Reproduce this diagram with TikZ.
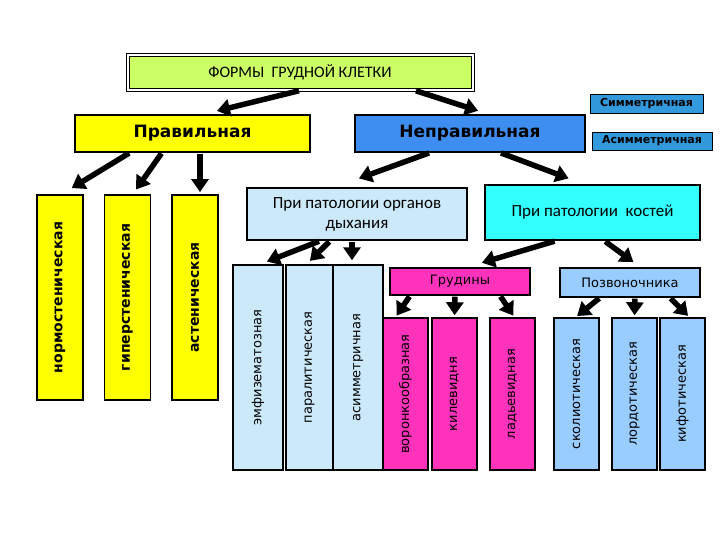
\documentclass[tikz,border=0pt]{standalone}
\usepackage{fontspec}
\setmainfont{DejaVu Sans}
\newfontfamily\calib{Carlito}
\usetikzlibrary{arrows.meta}
\definecolor{lime}{HTML}{CCFF66}
\definecolor{yel}{HTML}{FFFF00}
\definecolor{blu}{HTML}{3D8EF0}
\definecolor{sblu}{HTML}{3399DD}
\definecolor{lblu}{HTML}{CCE9F9}
\definecolor{cyn}{HTML}{33FFFF}
\definecolor{mag}{HTML}{FF33BB}
\definecolor{pblu}{HTML}{99CCFF}
\tikzset{
 box/.style={draw=black,line width=1.8pt,inner sep=1pt,align=center},
 vtxt/.style={rotate=90,inner sep=0pt,font=\fontsize{13}{14}\selectfont},
 arr/.style={line width=5.5pt,-{Triangle[length=13pt,width=17pt]},shorten >=2pt,shorten <=1pt},
}
\begin{document}
\begin{tikzpicture}[x=1pt,y=-1pt]
\useasboundingbox[fill=white] (0,0) rectangle (720,540);
\node[draw=black,line width=1pt,double=white,double distance=2pt,fill=lime,minimum width=345pt,minimum height=35pt,font=\calib\fontsize{16}{18}\selectfont] (title) at (300,72.5) {ФОРМЫ\ \ ГРУДНОЙ КЛЕТКИ};
\node[box,line width=1.2pt,fill=yel,minimum width=235pt,minimum height=37pt,font=\bfseries\fontsize{17}{19}\selectfont] (prav) at (192.5,133.5) {Правильная};
\node[box,line width=1.2pt,fill=blu,minimum width=230pt,minimum height=37pt,font=\bfseries\fontsize{17}{19}\selectfont] (neprav) at (470,133.5) {Неправильная};
\node[box,line width=0.8pt,fill=sblu,minimum width=113pt,minimum height=19pt,font=\bfseries\fontsize{11}{12}\selectfont] (sym) at (646.5,103.5) {Симметричная};
\node[box,line width=0.8pt,fill=sblu,minimum width=120pt,minimum height=18pt,font=\bfseries\fontsize{11}{12}\selectfont] (asym) at (652,141) {Асимметричная};
% yellow verticals
\foreach \n/\x/\t in {normo/60/нормостеническая,giper/127.5/гиперстеническая,asten/195/астеническая}{
 \node[box,fill=yel,minimum width=46pt,minimum height=205pt] (\n) at (\x,297.5) {};
 \node[vtxt,font=\bfseries\fontsize{14}{15}\selectfont] (\n-t) at (\n) {\t};
}
\node[box,fill=lblu,minimum width=220pt,minimum height=52pt,font=\calib\fontsize{17}{20}\selectfont] (resp) at (357,214) {При патологии органов\\дыхания};
\node[box,fill=cyn,minimum width=215pt,minimum height=55pt,font=\calib\fontsize{17}{20}\selectfont] (bones) at (592.5,212.5) {При патологии\ \ костей};
\foreach \n/\x/\w/\t in {emph/258/50/эмфизематозная,paral/309.5/47/паралитическая,asymm/358/50/асимметричная}{
 \node[box,line width=1.4pt,fill=lblu,minimum width=\w pt,minimum height=205pt] (\n) at (\x,367.5) {};
 \node[vtxt] (\n-t) at (\n) {\t};
}
\node[box,line width=1.4pt,fill=mag,minimum width=140pt,minimum height=27pt,font=\fontsize{13}{14}\selectfont] (grud) at (460,281.5) {Грудины};
\node[box,line width=1.4pt,fill=pblu,minimum width=140pt,minimum height=29pt,font=\fontsize{13}{14}\selectfont] (pozv) at (630,282.5) {Позвоночника};
\foreach \n/\x/\t/\c in {vor/405.5/воронкообразная/mag,kil/454.5/килевидня/mag,lad/512.5/ладьевидная/mag,skol/576.5/сколиотическая/pblu,lord/634.5/лордотическая/pblu,kif/682.5/кифотическая/pblu}{
 \node[box,line width=1.4pt,fill=\c,minimum width=45pt,minimum height=152pt] (\n) at (\x,394) {};
 \node[vtxt] (\n-t) at (\n) {\t};
}
% arrows
\draw[arr] ([xshift=0pt]title.south) -- ([xshift=22.5pt,yshift=3pt]prav.north);
\draw[arr] ([xshift=115pt]title.south) -- ([xshift=10pt,yshift=3pt]neprav.north);
\draw[arr] ([xshift=-62.5pt]prav.south) -- ([xshift=10pt,yshift=5pt]normo.north);
\draw[arr] ([xshift=-30.5pt]prav.south) -- ([xshift=7.5pt,yshift=3pt]giper.north);
\draw[arr] ([xshift=7.5pt]prav.south) -- ([xshift=5pt]asten.north);
\draw[arr] ([xshift=-40pt]neprav.south) -- ([xshift=0pt,yshift=8pt]resp.north);
\draw[arr] ([xshift=30pt]neprav.south) -- ([xshift=-22pt,yshift=5pt]bones.north);
\draw[arr] ([xshift=-37pt]resp.south) -- ([xshift=7pt,yshift=2pt]emph.north);
\draw[arr] ([xshift=-27pt]resp.south) -- ([xshift=-1pt,yshift=2pt]paral.north);
\draw[arr] ([xshift=-5pt]resp.south) -- ([xshift=-6pt,yshift=2pt]asymm.north);
\draw[arr] ([xshift=-37pt]bones.south) -- ([xshift=20pt,yshift=4pt]grud.north);
\draw[arr] ([xshift=12pt]bones.south) -- ([xshift=5pt,yshift=4pt]pozv.north);
\draw[arr] ([xshift=-50pt]grud.south) -- ([xshift=-10pt]vor.north);
\draw[arr] ([xshift=-5pt]grud.south) -- ([xshift=0pt]kil.north);
\draw[arr] ([xshift=40pt]grud.south) -- ([xshift=2pt]lad.north);
\draw[arr] ([xshift=-30pt]pozv.south) -- ([xshift=-1pt]skol.north);
\draw[arr] ([xshift=5pt]pozv.south) -- ([xshift=0pt]lord.north);
\draw[arr] ([xshift=40pt]pozv.south) -- ([xshift=7pt]kif.north);
\end{tikzpicture}
\end{document}
